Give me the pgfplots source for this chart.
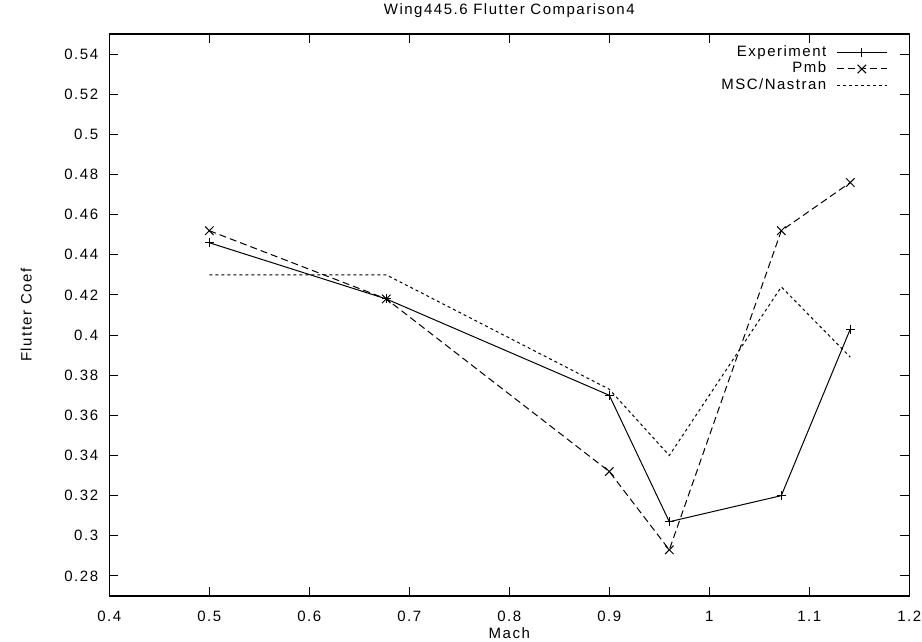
\documentclass[border=0pt]{standalone}
\usepackage{fontspec}
\setmainfont{Liberation Sans}[LetterSpace=10]
\usepackage{pgfplots}
\pgfplotsset{compat=1.18}

\pgfplotstableread{
mach   coef
0.500  0.446
0.677  0.418
0.900  0.370
0.960  0.307
1.072  0.320
1.141  0.403
}\experiment

\pgfplotstableread{
mach   coef
0.500  0.452
0.677  0.418
0.900  0.332
0.960  0.293
1.072  0.452
1.141  0.476
}\pmb

\pgfplotstableread{
mach   coef
0.500  0.430
0.677  0.430
0.900  0.373
0.960  0.340
1.072  0.424
1.141  0.389
}\nastran

\begin{document}
\begin{tikzpicture}[font=\fontsize{15pt}{18pt}\selectfont]
\begin{axis}[
  name=ax,
  scale only axis,
  width=800pt, height=562pt,
  xmin=0.4, xmax=1.2,
  ymin=0.27, ymax=0.55,
  xtick={0.4,0.5,0.6,0.7,0.8,0.9,1.0,1.1,1.2},
  ytick={0.28,0.30,0.32,0.34,0.36,0.38,0.40,0.42,0.44,0.46,0.48,0.50,0.52,0.54},
  /pgf/number format/assume math mode=true,
  /pgf/number format/.cd, fixed, precision=2, /pgfplots/.cd,
  tick align=inside,
  major tick length=9pt,
  minor tick num=0,
  axis line style={line width=1.2pt},
  every tick/.style={line width=1pt, black},
  xticklabel style={anchor=base, inner sep=0pt, yshift=-25.7pt},
  yticklabel style={anchor=east, inner sep=0pt, xshift=-11pt},
  title={Wing445.6 Flutter Comparison4},
  title style={at={(axis description cs:0.5,1)}, anchor=base, inner sep=0pt, yshift=13.3pt},
  xlabel={Mach},
  xlabel style={at={(axis description cs:0.5,0)}, anchor=base, inner sep=0pt, yshift=-42pt},
  ylabel={Flutter Coef},
  ylabel style={at={(axis description cs:-0.097,0.5)}, anchor=base, inner sep=0pt, rotate=0},
  legend plot pos=right,
  legend cell align=right,
  legend style={draw=none, fill=none, at={(axis description cs:1,1)}, anchor=north east,
    xshift=-22pt, yshift=-11.5pt, inner sep=0pt, outer sep=0pt,
    row sep=2.5pt, column sep=10pt,
    nodes={inner sep=0pt, text height=11pt, text depth=3pt}},
  legend image code/.code={%
    \draw[mark repeat=2, mark phase=2, #1] plot coordinates {(0pt,0pt) (25pt,0pt) (50pt,0pt)};},
]
\addplot[black, line width=1pt, mark=+, mark size=4.5pt, mark options={solid, line width=1pt}]
  table[x=mach, y=coef] {\experiment};
\addlegendentry{Experiment}
\addplot[black, line width=1pt, dash pattern=on 7pt off 4pt, mark=x, mark size=6pt, mark options={solid, line width=1pt}]
  table[x=mach, y=coef] {\pmb};
\addlegendentry{Pmb}
\addplot[black, line width=1pt, dash pattern=on 3pt off 3pt]
  table[x=mach, y=coef] {\nastran};
\addlegendentry{MSC/Nastran}
\end{axis}
\pgfresetboundingbox
\path (ax.south west) ++(-109.3pt,-45pt) rectangle ++(922pt,641pt);
\end{tikzpicture}
\end{document}
